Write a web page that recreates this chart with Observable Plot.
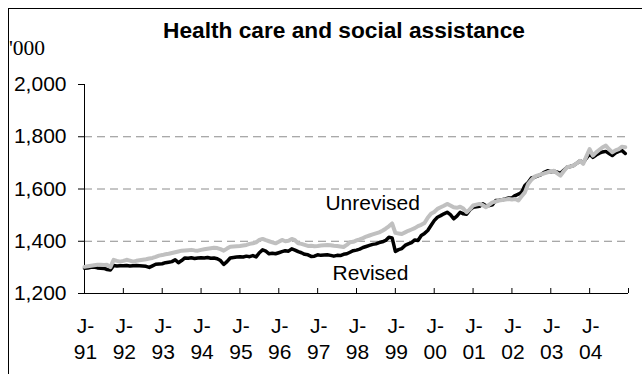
<!DOCTYPE html>
<html><head><meta charset="utf-8">
<script src="https://cdn.jsdelivr.net/npm/d3@7"></script>
<script src="https://cdn.jsdelivr.net/npm/@observablehq/plot@0.6"></script>
<style>
body{margin:0;background:#fff;}
#wrap{position:relative;width:642px;height:374px;overflow:hidden;background:#fff;}
#frame{position:absolute;left:8px;top:8px;width:700px;height:420px;border:1px solid #000;box-sizing:border-box;}
#title{position:absolute;left:0;width:688px;top:19px;text-align:center;font:bold 22.7px "Liberation Sans",Arial,sans-serif;line-height:22px;color:#000;}
#unit{position:absolute;left:9px;top:38px;font:21.5px "Liberation Serif","Times New Roman",serif;line-height:20px;color:#000;}
#chart{position:absolute;left:0;top:0;}
</style></head>
<body>
<div id="wrap">
  <div id="frame"></div>
  <div id="title">Health care and social assistance</div>
  <div id="unit">'000</div>
  <div id="chart"></div>
</div>
<script>
// Monthly employment ('000), Jan 1991 - Dec 2004
const years = ["91","92","93","94","95","96","97","98","99","00","01","02","03","04"];
const revised = [
  1297,1298,1300,1301,1298,1297,1296,1292,1290,1307,1305,1306,
  1306,1307,1305,1306,1307,1306,1305,1304,1300,1306,1312,1313,
  1314,1318,1320,1322,1329,1318,1326,1336,1335,1337,1334,1336,
  1337,1336,1338,1335,1336,1333,1326,1311,1322,1336,1338,1340,
  1341,1340,1343,1341,1345,1340,1356,1367,1362,1352,1354,1352,
  1356,1360,1364,1362,1371,1366,1360,1356,1350,1348,1342,1343,
  1348,1346,1347,1348,1346,1343,1346,1345,1350,1352,1358,1364,
  1366,1370,1376,1380,1384,1388,1390,1395,1398,1403,1415,1413,
  1361,1368,1372,1384,1390,1395,1405,1403,1422,1430,1441,1460,
  1479,1492,1498,1505,1511,1502,1486,1496,1511,1505,1503,1520,
  1530,1532,1534,1543,1536,1537,1540,1556,1557,1559,1562,1566,
  1566,1575,1580,1588,1613,1625,1642,1645,1650,1655,1664,1670,
  1666,1668,1664,1660,1672,1683,1686,1690,1698,1708,1702,1718,
  1734,1721,1730,1737,1742,1744,1736,1728,1738,1744,1747,1736
];
const unrevised = [
  1302,1304,1306,1308,1310,1310,1309,1310,1301,1329,1325,1322,
  1325,1329,1326,1322,1325,1327,1329,1331,1334,1336,1340,1345,
  1347,1350,1352,1355,1358,1361,1364,1365,1366,1367,1365,1364,
  1367,1369,1371,1373,1375,1374,1370,1364,1372,1379,1380,1381,
  1382,1384,1386,1390,1392,1396,1405,1409,1404,1400,1396,1392,
  1398,1405,1400,1402,1409,1404,1392,1390,1386,1382,1383,1381,
  1382,1384,1385,1386,1385,1383,1382,1380,1378,1386,1396,1398,
  1403,1407,1412,1418,1422,1426,1430,1434,1440,1448,1457,1468,
  1432,1430,1428,1434,1440,1445,1450,1458,1463,1470,1490,1505,
  1512,1524,1530,1536,1543,1537,1530,1528,1532,1525,1511,1522,
  1537,1540,1543,1538,1530,1540,1549,1552,1556,1558,1560,1562,
  1560,1562,1556,1572,1587,1619,1635,1647,1652,1656,1660,1664,
  1667,1670,1660,1651,1668,1683,1686,1690,1698,1708,1696,1725,
  1753,1728,1740,1750,1760,1766,1752,1740,1748,1753,1762,1760
];
const yTicks = [1200, 1400, 1600, 1800, 2000];
const gridValues = [1400, 1600, 1800];
const seriesLabels = [
  {name: "Unrevised", month: 74.4, value: 1544},
  {name: "Revised", month: 76.6, value: 1276}
];

const nMonths = years.length * 12;
const tickMonths = d3.range(0, nMonths + 1, 12);
const labelMonths = d3.range(0, nMonths, 12);
const rev = revised.map((v, i) => ({m: i, v}));
const unrev = unrevised.map((v, i) => ({m: i, v}));

const chart = Plot.plot({
  width: 642, height: 374,
  marginLeft: 84, marginRight: 14, marginTop: 84, marginBottom: 81,
  style: {fontFamily: '"Liberation Sans", Arial, sans-serif', fontSize: "21px", background: "transparent", color: "#000"},
  x: {domain: [0, nMonths]},
  y: {domain: [yTicks[0], yTicks[yTicks.length - 1]]},
  marks: [
    Plot.gridY(gridValues, {stroke: "#8c8c8c", strokeOpacity: 1, strokeWidth: 1, strokeDasharray: "8,5"}),
    Plot.axisY(yTicks, {tickSize: 6, tickPadding: 12, tickFormat: d3.format(","), label: null, fontSize: 21}),
    Plot.ruleX([0], {stroke: "#000"}),
    Plot.ruleY([yTicks[0]], {stroke: "#000"}),
    Plot.axisX(tickMonths, {tickSize: 5, dy: -5, tickFormat: () => "", label: null}),
    Plot.axisX(labelMonths, {tickSize: 0, tickPadding: 22, tickFormat: d => "J-\n" + years[d / 12], lineHeight: 1.2, label: null, fontSize: 21, dx: 1}),
    Plot.line(rev, {x: "m", y: "v", stroke: "#000", strokeWidth: 3.5, strokeLinejoin: "round"}),
    Plot.line(unrev, {x: "m", y: "v", stroke: "#c0c0c0", strokeWidth: 4, strokeLinejoin: "round"}),
    Plot.text(seriesLabels, {x: "month", y: "value", text: "name", textAnchor: "start", fontSize: 21, fill: "#000"})
  ]
});
document.getElementById("chart").appendChild(chart);
</script>
</body></html>
